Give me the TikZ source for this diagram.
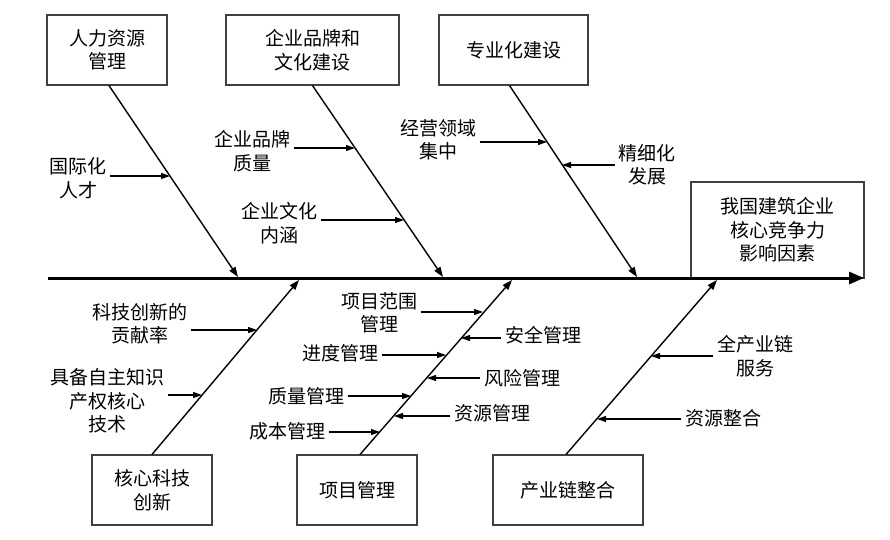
\documentclass[tikz,border=0pt]{standalone}
\usepackage{fontspec}
\setmainfont{Noto Sans CJK SC}
\usetikzlibrary{arrows.meta}
\begin{document}
\begin{tikzpicture}[x=1pt,y=-1pt,
  font=\fontsize{19}{23.5}\selectfont,
  box/.style={draw=black!75,line width=1.1pt,minimum height=70pt,align=center,inner sep=2pt},
  lbl/.style={align=center,inner sep=3.5pt},
  bone/.style={line width=1.4pt,-{Triangle[length=10pt,width=7pt]}},
  sub/.style={line width=1.1pt,-{Triangle[length=9pt,width=6pt]}}]
\useasboundingbox (0,0) rectangle (890,539);
% boxes
\node[box,minimum width=120pt] (rlzy) at (107,50) {人力资源\\管理};
\node[box,minimum width=173pt] (ppwh) at (312.5,50) {企业品牌和\\文化建设};
\node[box,minimum width=149pt] (zyh) at (513.5,50) {专业化建设};
\node[box,minimum width=120pt] (hxkj) at (152,490) {核心科技\\创新};
\node[box,minimum width=120pt] (xmgl) at (357,490) {项目管理};
\node[box,minimum width=150pt] (cyl) at (568,490) {产业链整合};
\node[box,minimum width=173pt,minimum height=96pt] (head) at (777.5,230) {我国建筑企业\\核心竞争力\\影响因素};
% spine and bones
\coordinate (tail) at (48,278);
\coordinate (tip) at (864,278);
\coordinate (e1) at (238,277);
\coordinate (e2) at (443,277);
\coordinate (e3) at (637,277);
\coordinate (e4) at (299,280);
\coordinate (e5) at (512,280);
\coordinate (e6) at (717,280);
\draw[bone] ([xshift=2pt]rlzy.south) -- (e1);
\draw[bone] (ppwh.south) -- (e2);
\draw[bone] ([xshift=-4pt]zyh.south) -- (e3);
\draw[bone] (hxkj.north) -- (e4);
\draw[bone] ([xshift=3pt]xmgl.north) -- (e5);
\draw[bone] ([xshift=-2pt]cyl.north) -- (e6);
\draw[line width=3pt,-{Triangle[length=15pt,width=12pt]}] (tail) -- (tip);
% causes
\node[lbl] (gjh) at (78,178) {国际化\\人才};
\node[lbl] (ppzl) at (252,151) {企业品牌\\质量};
\node[lbl] (whnh) at (279,223) {企业文化\\内涵};
\node[lbl] (jyly) at (438,140) {经营领域\\集中};
\node[lbl] (jxh) at (647,165) {精细化\\发展};
\node[lbl] (gxl) at (140,324) {科技创新的\\贡献率};
\node[lbl] (zzzs) at (107,401) {具备自主知识\\产权核心\\技术};
\node[lbl] (fw) at (379,313) {项目范围\\管理};
\node[lbl] (aq) at (543,335) {安全管理};
\node[lbl] (jd) at (340,353) {进度管理};
\node[lbl] (fx) at (522,378) {风险管理};
\node[lbl] (zl) at (306,396) {质量管理};
\node[lbl] (zy) at (492,413) {资源管理};
\node[lbl] (cb) at (287,431) {成本管理};
\node[lbl] (qcyl) at (755,356) {全产业链\\服务};
\node[lbl] (zyzh) at (723,418) {资源整合};
\coordinate (t1) at (170,176);
\coordinate (t2) at (355,148);
\coordinate (t3) at (404,220);
\coordinate (t4) at (547,142);
\coordinate (t5) at (562,165);
\coordinate (t6) at (257,330);
\coordinate (t7) at (202,395);
\coordinate (t8) at (483,312);
\coordinate (t9) at (461,338);
\coordinate (t10) at (446,355);
\coordinate (t11) at (427,378);
\coordinate (t12) at (411,396);
\coordinate (t13) at (394,416);
\coordinate (t14) at (380,432);
\coordinate (t15) at (651,356);
\coordinate (t16) at (597,419);
\draw[sub] (gjh.east |- t1) -- (t1);
\draw[sub] (ppzl.east |- t2) -- (t2);
\draw[sub] (whnh.east |- t3) -- (t3);
\draw[sub] (jyly.east |- t4) -- (t4);
\draw[sub] (jxh.west |- t5) -- (t5);
\draw[sub] (gxl.east |- t6) -- (t6);
\draw[sub] (zzzs.east |- t7) -- (t7);
\draw[sub] (fw.east |- t8) -- (t8);
\draw[sub] (aq.west |- t9) -- (t9);
\draw[sub] (jd.east |- t10) -- (t10);
\draw[sub] (fx.west |- t11) -- (t11);
\draw[sub] (zl.east |- t12) -- (t12);
\draw[sub] (zy.west |- t13) -- (t13);
\draw[sub] (cb.east |- t14) -- (t14);
\draw[sub] (qcyl.west |- t15) -- (t15);
\draw[sub] (zyzh.west |- t16) -- (t16);
\end{tikzpicture}
\end{document}
